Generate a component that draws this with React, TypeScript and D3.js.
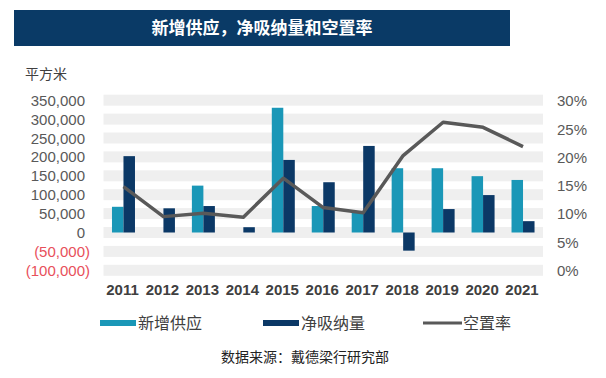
import React from "react";
import * as d3 from "d3";

const years = ["2011","2012","2013","2014","2015","2016","2017","2018","2019","2020","2021"];
const newSupply = [68000, 0, 124000, 0, 330000, 70000, 53000, 170000, 170000, 149000, 139000];
const netAbsorption = [202000, 64000, 70000, 14000, 192000, 133000, 229000, -48000, 62000, 99000, 30000];
const vacancy = [0.148, 0.095, 0.101, 0.094, 0.163, 0.111, 0.102, 0.203, 0.262, 0.253, 0.219];
const leftTicks = [-100000, -50000, 0, 50000, 100000, 150000, 200000, 250000, 300000, 350000];
const rightTicks = [0, 0.05, 0.1, 0.15, 0.2, 0.25, 0.3];
const seriesNames = ["新增供应", "净吸纳量", "空置率"];
const title = "新增供应，净吸纳量和空置率";
const unitLabel = "平方米";
const sourceText = "数据来源：戴德梁行研究部";

const TEAL = "#1A97B7";
const NAVY = "#0B3866";
const LINE = "#595959";
const CJK = "'Noto Sans CJK SC', 'Noto Sans', sans-serif";
const LAT = "'Liberation Sans', Arial, sans-serif";

export default function App() {
  const W = 606, H = 378;
  const x = d3.scaleBand<string>().domain(years).range([103.5, 543]).paddingInner(0).paddingOuter(0);
  const yL = d3.scaleLinear().domain([-100000, 350000]).range([270.3, 100.2]);
  const yR = d3.scaleLinear().domain([0, 0.3]).range([270.3, 100.8]);
  const barW = 11.5;
  const cx = (y: string) => (x(y) as number) + x.bandwidth() / 2;
  const fmt = d3.format(",");
  const pct = d3.format(".0%");
  const line = d3.line<number>().x((_, i) => cx(years[i])).y((d) => yR(d));

  const legendX = [100, 263, 423];
  const legendColors = [TEAL, NAVY, LINE];

  return (
    <svg width={W} height={H} style={{ position: "absolute", left: 0, top: 0, background: "#fff" }}>
      <rect x={14} y={10} width={496} height={36} fill="#0A3A66" />
      <text x={262} y={34} textAnchor="middle" fill="#fff" fontFamily={CJK} fontSize={17} fontWeight="bold">{title}</text>
      <text x={25} y={79} fill="#404040" fontFamily={CJK} fontSize={14}>{unitLabel}</text>

      {leftTicks.map((v) => (
        <rect key={"b" + v} x={103.5} y={yL(v) - 5.5} width={439.5} height={11} fill="#EFEFEF" />
      ))}

      {leftTicks.map((v) => (
        <text key={"l" + v} x={v < 0 ? 90 : 85} y={yL(v) + 5.5} textAnchor="end" fontFamily={LAT} fontSize={15}
          fill={v < 0 ? "#E8505B" : "#595959"}>{v < 0 ? `(${fmt(-v)})` : fmt(v)}</text>
      ))}
      {rightTicks.map((v) => (
        <text key={"r" + v} x={557} y={yR(v) + 5.5} fontFamily={LAT} fontSize={15} fill="#595959">{pct(v)}</text>
      ))}

      {years.map((yr, i) => (
        <g key={yr}>
          {newSupply[i] !== 0 && (
            <rect x={cx(yr) - barW} y={yL(Math.max(0, newSupply[i]))} width={barW}
              height={Math.abs(yL(newSupply[i]) - yL(0))} fill={TEAL} />
          )}
          {netAbsorption[i] !== 0 && (
            <rect x={cx(yr)} y={yL(Math.max(0, netAbsorption[i]))} width={barW}
              height={Math.abs(yL(netAbsorption[i]) - yL(0))} fill={NAVY} />
          )}
          <text x={cx(yr) - 1} y={295} textAnchor="middle" fontFamily={LAT} fontSize={15} fontWeight="bold" fill="#404040">{yr}</text>
        </g>
      ))}

      <path d={line(vacancy) || ""} fill="none" stroke={LINE} strokeWidth={3.5} strokeLinejoin="round" />

      {seriesNames.map((n, i) => (
        <g key={n}>
          {i < 2 ? (
            <rect x={legendX[i]} y={320} width={36} height={6} fill={legendColors[i]} />
          ) : (
            <rect x={legendX[i]} y={321.5} width={39} height={3} fill={legendColors[i]} />
          )}
          <text x={legendX[i] + (i < 2 ? 38 : 40)} y={329} fontFamily={CJK} fontSize={16} fill="#404040">{n}</text>
        </g>
      ))}

      <text x={305} y={362} textAnchor="middle" fontFamily={CJK} fontSize={14} fill="#222">{sourceText}</text>
    </svg>
  );
}
